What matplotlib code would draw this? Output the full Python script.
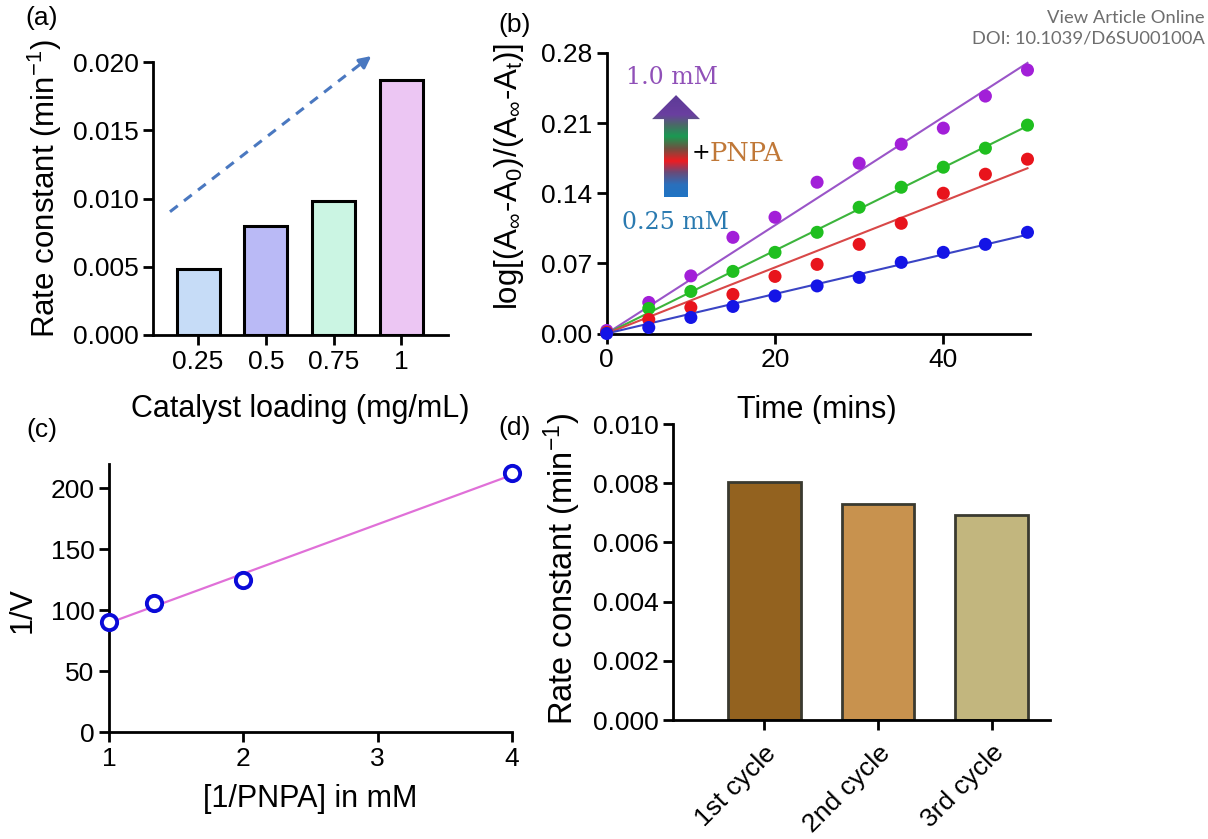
import numpy as np
import matplotlib
matplotlib.use("Agg")
import matplotlib.pyplot as plt
from matplotlib import font_manager
from matplotlib.colors import LinearSegmentedColormap
from matplotlib.patches import Polygon

# (a) rate constant vs catalyst loading
loading = ["0.25", "0.5", "0.75", "1"]
k_loading = [0.0048, 0.0080, 0.0098, 0.0187]
loading_colors = ["#c6dcf7", "#babaf6", "#cbf5e3", "#ecc6f3"]

# (b) kinetics at different PNPA concentrations
time_min = [0, 5, 10, 15, 20, 25, 30, 35, 40, 45, 50]
log_10mM = [0.003, 0.031, 0.0575, 0.096, 0.116, 0.151, 0.170, 0.189, 0.205, 0.237, 0.263]
log_075mM = [0.001, 0.025, 0.042, 0.062, 0.081, 0.101, 0.126, 0.146, 0.166, 0.185, 0.208]
log_05mM = [0.001, 0.014, 0.026, 0.039, 0.057, 0.069, 0.089, 0.110, 0.140, 0.159, 0.174]
log_025mM = [0.0, 0.006, 0.016, 0.027, 0.0375, 0.0475, 0.056, 0.071, 0.081, 0.089, 0.101]

# (c) Lineweaver-Burk
inv_pnpa = [1.0, 1.333, 2.0, 4.0]
inv_v = [90.5, 106.0, 124.5, 212.5]

# (d) recyclability
cycles = ["1st cycle", "2nd cycle", "3rd cycle"]
k_cycle = [0.00804, 0.00731, 0.00692]
cycle_colors = ["#93621f", "#c8924e", "#c2b67e"]

plt.rcParams["font.family"] = "Liberation Sans"
plt.rcParams["mathtext.fontset"] = "custom"
plt.rcParams["mathtext.rm"] = "Liberation Sans"
plt.rcParams["mathtext.it"] = "Liberation Sans:italic"
plt.rcParams["mathtext.sf"] = "Liberation Sans"

installed = {f.name for f in font_manager.fontManager.ttflist}
narrow = "Liberation Sans Narrow" if "Liberation Sans Narrow" in installed else "Liberation Sans"

W, H = 1208, 839
fig = plt.figure(figsize=(W / 100, H / 100), dpi=100)


def box(l, t, r, b):
    return [l / W, 1 - b / H, (r - l) / W, (b - t) / H]


def style(ax, tick_font="Liberation Sans"):
    for s in ["top", "right"]:
        ax.spines[s].set_visible(False)
    for s in ["left", "bottom"]:
        ax.spines[s].set_linewidth(2.0)
    ax.tick_params(width=2.0, length=7, labelsize=19, direction="out")
    for lab in ax.get_xticklabels() + ax.get_yticklabels():
        lab.set_family(tick_font)


XLABEL = 22

# ---- (a)
ax_a = fig.add_axes(box(153, 62, 448, 335))
xa = np.arange(len(loading))
ax_a.bar(xa, k_loading, width=0.635, color=loading_colors, edgecolor="black", linewidth=2.2, zorder=2)
ax_a.set_xticks(xa, loading)
ax_a.set_xlim(-0.665, 3.69)
ax_a.set_ylim(0, 0.020)
ax_a.set_yticks([0, 0.005, 0.010, 0.015, 0.020], ["0.000", "0.005", "0.010", "0.015", "0.020"])
ax_a.set_ylabel("Rate constant (min$^{-1}$)", fontsize=22.5)
ax_a.yaxis.set_label_coords(-0.30, 0.535)
ax_a.set_xlabel("Catalyst loading (mg/mL)", fontsize=XLABEL)
ax_a.xaxis.set_label_coords(0.498, -0.215)
style(ax_a)
ax_a.plot([-0.414, 2.50], [0.00903, 0.02024], ls=(0, (3.2, 2.6)), color="#4a78c0", lw=2.2, clip_on=False)
ax_a.annotate("", xy=(2.59, 0.02056), xytext=(2.45, 0.02002),
              arrowprops=dict(arrowstyle="-|>,head_length=0.7,head_width=0.35", color="#4a78c0", lw=2.2),
              annotation_clip=False)

# ---- (b)
ax_b = fig.add_axes(box(606.7, 53, 1030, 333.5))
series = [(log_10mM, "#a21fd8", "#9a55c8"),
          (log_075mM, "#1fbf1f", "#3cb43c"),
          (log_05mM, "#e8141c", "#d84848"),
          (log_025mM, "#1414e6", "#3a44c4")]
t = np.array(time_min, dtype=float)
for vals, pc, lc in series:
    v = np.array(vals)
    slope = np.sum(t * v) / np.sum(t * t)
    ax_b.plot([0, 50], [0, slope * 50], color=lc, lw=1.5, zorder=3)
    ax_b.scatter(t, v, s=88, color=pc, zorder=4, clip_on=False, edgecolors="none")
ax_b.set_xticks([0, 20, 40])
ax_b.set_yticks([0, 0.07, 0.14, 0.21, 0.28], ["0.00", "0.07", "0.14", "0.21", "0.28"])
ax_b.set_ylabel(r"log[(A$_\infty$-A$_0$)/(A$_\infty$-A$_\mathrm{t}$)]", fontsize=22.5)
ax_b.yaxis.set_label_coords(-0.19, 0.56)
ax_b.set_xlabel("Time (mins)", fontsize=XLABEL)
ax_b.xaxis.set_label_coords(0.497, -0.218)
style(ax_b, narrow)

# gradient arrow for increasing PNPA
hx0, hx1, sx0, sx1 = 5.39, 11.09, 6.81, 9.66
yb, yh, yt = 0.136, 0.214, 0.238
arrow = Polygon([(sx0, yb), (sx1, yb), (sx1, yh), (hx1, yh), ((hx0 + hx1) / 2, yt), (hx0, yh), (sx0, yh)],
                closed=True, facecolor="none", edgecolor="none")
ax_b.add_patch(arrow)
grad_cmap = LinearSegmentedColormap.from_list(
    "pnpa", [(0.0, "#1f74c4"), (0.12, "#2a70bc"), (0.24, "#6a4a78"), (0.35, "#ee1c22"),
             (0.47, "#705040"), (0.59, "#1a9a52"), (0.70, "#4a6a66"), (0.80, "#6a3fa0"),
             (1.0, "#5c3a96")])
grad = np.linspace(0, 1, 256).reshape(-1, 1)
im = ax_b.imshow(grad, cmap=grad_cmap, extent=(hx0, hx1, yb, yt), origin="lower", aspect="auto", zorder=2)
im.set_clip_path(arrow)
ax_b.set_xlim(0, 50.3)
ax_b.set_ylim(0, 0.28)
ax_b.text(7.76, 0.256, "1.0 mM", family="DejaVu Serif", fontsize=17, color="#9050b8", ha="center", va="center")
ax_b.text(10.1, 0.180, "+", family="DejaVu Serif", fontsize=16, color="black", ha="left", va="center")
ax_b.text(12.2, 0.180, "PNPA", family="DejaVu Serif", fontsize=18.5, color="#c07838", ha="left", va="center")
ax_b.text(8.12, 0.111, "0.25 mM", family="DejaVu Serif", fontsize=17, color="#2a7ab0", ha="center", va="center")

# ---- (c)
ax_c = fig.add_axes(box(109, 464, 512, 732))
coef = np.polyfit(inv_pnpa, inv_v, 1)
xl = np.array([1.0, 4.0])
ax_c.plot(xl, np.polyval(coef, xl), color="#e070d8", lw=1.6, zorder=2)
ax_c.plot(inv_pnpa, inv_v, "o", ms=11, mfc="white", mec="#0a0ad8", mew=2.8, zorder=3, clip_on=False)
ax_c.set_xlim(1, 4)
ax_c.set_ylim(0, 220)
ax_c.set_xticks([1, 2, 3, 4])
ax_c.set_yticks([0, 50, 100, 150, 200])
ax_c.set_ylabel("1/V", fontsize=XLABEL)
ax_c.yaxis.set_label_coords(-0.178, 0.455)
ax_c.set_xlabel("[1/PNPA] in mM", fontsize=XLABEL)
ax_c.xaxis.set_label_coords(0.499, -0.195)
style(ax_c)

# ---- (d)
ax_d = fig.add_axes(box(673, 424, 1050, 720))
xd = np.arange(len(cycles))
ax_d.bar(xd, k_cycle, width=0.64, color=cycle_colors, edgecolor="#3a3a30", linewidth=2.0, zorder=2)
ax_d.set_xlim(-0.8, 2.51)
ax_d.set_ylim(0, 0.010)
ax_d.set_xticks(xd, cycles, rotation=45, ha="right", rotation_mode="anchor")
ax_d.set_yticks([0, 0.002, 0.004, 0.006, 0.008, 0.010],
                ["0.000", "0.002", "0.004", "0.006", "0.008", "0.010"])
ax_d.set_ylabel("Rate constant (min$^{-1}$)", fontsize=23.5)
ax_d.yaxis.set_label_coords(-0.24, 0.51)
style(ax_d)
ax_d.tick_params(axis="x", pad=8, labelsize=19)

# panel letters
for txt, x, y in [("(a)", 42, 18), ("(b)", 515, 25), ("(c)", 42, 430), ("(d)", 515, 428)]:
    fig.text(x / W, 1 - y / H, txt, fontsize=19, ha="center", va="center")

fig.text(1205 / W, 1 - 18 / H, "View Article Online", fontsize=13.2, color="#6e6e6e",
         ha="right", va="center", family="Lato")
fig.text(1205 / W, 1 - 39 / H, "DOI: 10.1039/D6SU00100A", fontsize=13.2, color="#6e6e6e",
         ha="right", va="center", family="Lato")

fig.savefig("out.png", dpi=100)
